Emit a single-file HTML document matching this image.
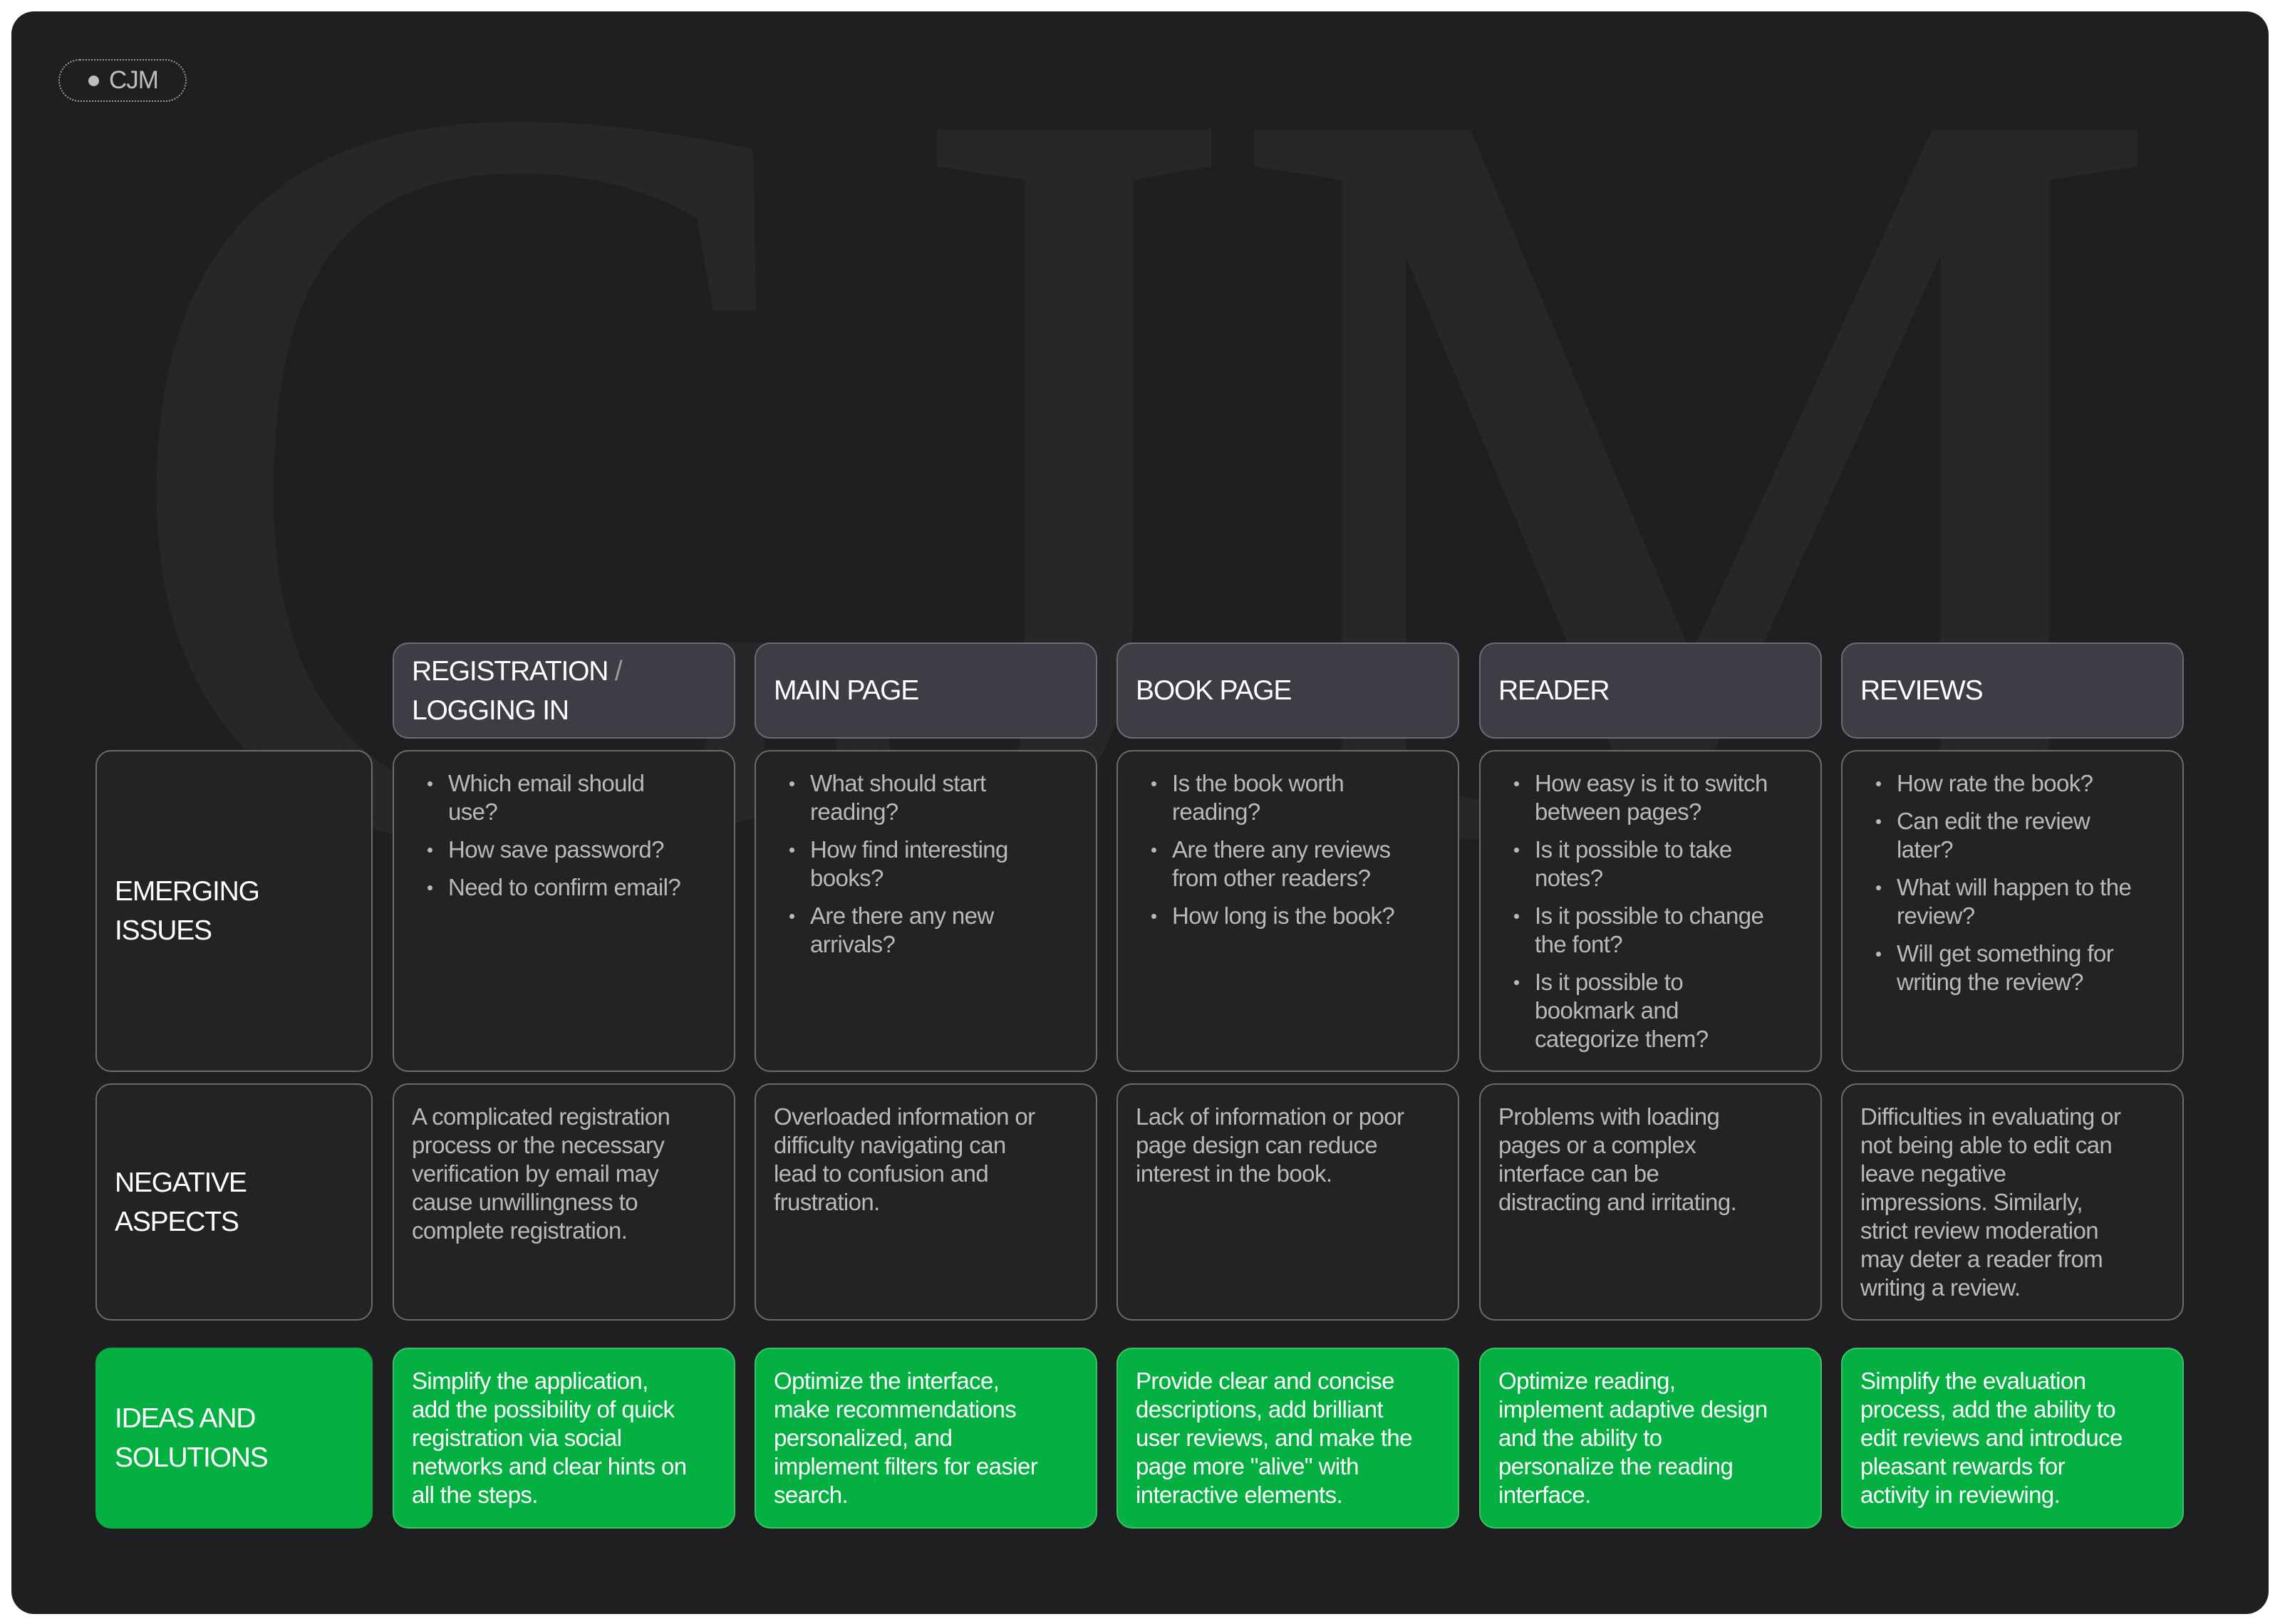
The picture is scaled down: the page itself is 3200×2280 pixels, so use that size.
<!DOCTYPE html>
<html><head><meta charset="utf-8"><style>
*{margin:0;padding:0;box-sizing:border-box}
body{width:3200px;height:2280px;background:#fff;position:relative;overflow:hidden;font-family:"Liberation Sans",sans-serif}
#frame{position:absolute;left:16px;top:16px;width:3168px;height:2250px;background:#1f1f21;border-radius:32px;overflow:hidden}
.pill{position:absolute;left:66px;top:67px;width:180px;height:60px;border:2px dotted #9a9a9a;border-radius:30px}
.pill .dot{position:absolute;left:40px;top:21px;width:15px;height:15px;border-radius:50%;background:#bdbdbd}
.pill span{position:absolute;left:69px;top:8px;font-size:35px;color:#bdbdbd;line-height:40px;letter-spacing:-1px}
.c{position:absolute;border:2px solid #6b6b70;border-radius:22px;background:#232326}
.h{background:#3d3d45;display:flex;align-items:center;padding-left:25px;color:#fff;font-size:39px;line-height:55px;letter-spacing:-1.2px}
.lab{display:flex;align-items:center;padding-left:25px;color:#fff;font-size:39px;line-height:55px;letter-spacing:-1.2px}
.t{padding:25px 0 0 25px;color:#b9b9bc;font-size:33px;line-height:40px;white-space:nowrap;letter-spacing:-0.6px}
.g{background:#04b041;border-color:#3cc266;color:#fff}
.g.t{color:#fff}
.b{list-style:none;padding:25px 0 0 76px;color:#b9b9bc;font-size:33px;line-height:40px;white-space:nowrap;letter-spacing:-0.6px}
.b li{position:relative;margin-bottom:13px}
.b li:before{content:"";position:absolute;left:-29px;top:17px;width:7px;height:7px;border-radius:50%;background:#b9b9bc}
</style></head><body>
<div id="frame">
<svg width="3168" height="2250" style="position:absolute;left:0;top:0">
<text x="150" y="1155" font-family="Liberation Serif,serif" font-size="1500" fill="#272729" stroke="#272729" stroke-width="14" textLength="2870" lengthAdjust="spacingAndGlyphs">CJM</text>
</svg>
<div class="pill"><div class="dot"></div><span>CJM</span></div>
</div>

<div class="c h" style="left:551px;top:902px;width:481px;height:135px"><div>REGISTRATION <span style="color:#9a9aa0">/</span><br>LOGGING IN</div></div>
<div class="c h" style="left:1059px;top:902px;width:481px;height:135px">MAIN PAGE</div>
<div class="c h" style="left:1567px;top:902px;width:481px;height:135px">BOOK PAGE</div>
<div class="c h" style="left:2076px;top:902px;width:481px;height:135px">READER</div>
<div class="c h" style="left:2584px;top:902px;width:481px;height:135px">REVIEWS</div>

<div class="c lab" style="left:134px;top:1053px;width:389px;height:452px"><div>EMERGING<br>ISSUES</div></div>
<div class="c lab" style="left:134px;top:1521px;width:389px;height:333px"><div>NEGATIVE<br>ASPECTS</div></div>
<div class="c lab g" style="left:134px;top:1892px;width:389px;height:254px;border-color:#04b041"><div>IDEAS AND<br>SOLUTIONS</div></div>

<ul class="c b" style="left:551px;top:1053px;width:481px;height:452px"><li>Which email should<br>use?</li><li>How save password?</li><li>Need to confirm email?</li></ul>
<ul class="c b" style="left:1059px;top:1053px;width:481px;height:452px"><li>What should start<br>reading?</li><li>How find interesting<br>books?</li><li>Are there any new<br>arrivals?</li></ul>
<ul class="c b" style="left:1567px;top:1053px;width:481px;height:452px"><li>Is the book worth<br>reading?</li><li>Are there any reviews<br>from other readers?</li><li>How long is the book?</li></ul>
<ul class="c b" style="left:2076px;top:1053px;width:481px;height:452px"><li>How easy is it to switch<br>between pages?</li><li>Is it possible to take<br>notes?</li><li>Is it possible to change<br>the font?</li><li>Is it possible to<br>bookmark and<br>categorize them?</li></ul>
<ul class="c b" style="left:2584px;top:1053px;width:481px;height:452px"><li>How rate the book?</li><li>Can edit the review<br>later?</li><li>What will happen to the<br>review?</li><li>Will get something for<br>writing the review?</li></ul>

<div class="c t" style="left:551px;top:1521px;width:481px;height:333px">A complicated registration<br>process or the necessary<br>verification by email may<br>cause unwillingness to<br>complete registration.</div>
<div class="c t" style="left:1059px;top:1521px;width:481px;height:333px">Overloaded information or<br>difficulty navigating can<br>lead to confusion and<br>frustration.</div>
<div class="c t" style="left:1567px;top:1521px;width:481px;height:333px">Lack of information or poor<br>page design can reduce<br>interest in the book.</div>
<div class="c t" style="left:2076px;top:1521px;width:481px;height:333px">Problems with loading<br>pages or a complex<br>interface can be<br>distracting and irritating.</div>
<div class="c t" style="left:2584px;top:1521px;width:481px;height:333px">Difficulties in evaluating or<br>not being able to edit can<br>leave negative<br>impressions. Similarly,<br>strict review moderation<br>may deter a reader from<br>writing a review.</div>

<div class="c t g" style="left:551px;top:1892px;width:481px;height:254px">Simplify the application,<br>add the possibility of quick<br>registration via social<br>networks and clear hints on<br>all the steps.</div>
<div class="c t g" style="left:1059px;top:1892px;width:481px;height:254px">Optimize the interface,<br>make recommendations<br>personalized, and<br>implement filters for easier<br>search.</div>
<div class="c t g" style="left:1567px;top:1892px;width:481px;height:254px">Provide clear and concise<br>descriptions, add brilliant<br>user reviews, and make the<br>page more "alive" with<br>interactive elements.</div>
<div class="c t g" style="left:2076px;top:1892px;width:481px;height:254px">Optimize reading,<br>implement adaptive design<br>and the ability to<br>personalize the reading<br>interface.</div>
<div class="c t g" style="left:2584px;top:1892px;width:481px;height:254px">Simplify the evaluation<br>process, add the ability to<br>edit reviews and introduce<br>pleasant rewards for<br>activity in reviewing.</div>
</body></html>
